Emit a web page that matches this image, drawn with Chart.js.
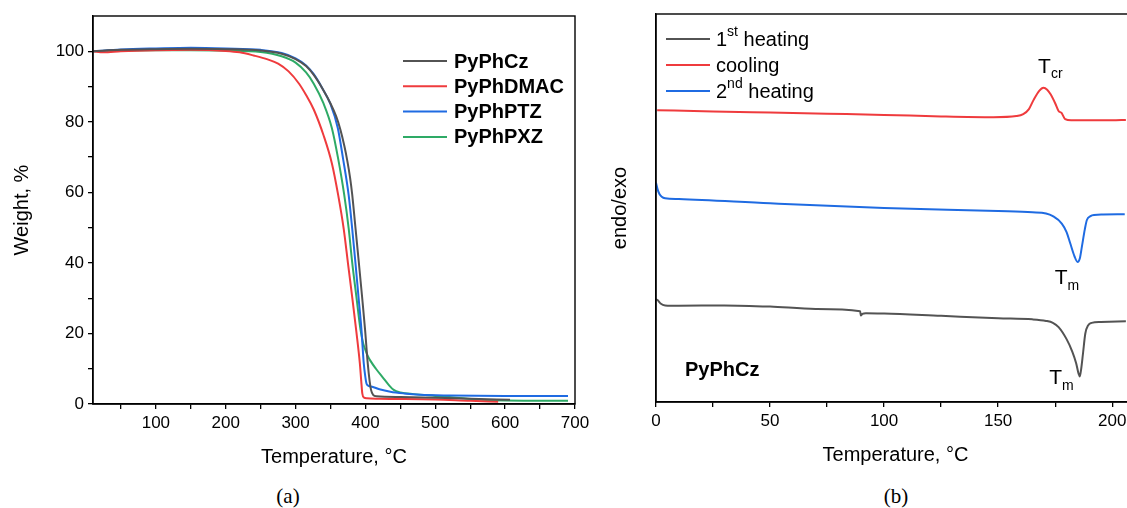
<!DOCTYPE html>
<html>
<head>
<meta charset="utf-8">
<script src="https://cdn.jsdelivr.net/npm/chart.js@4.4.1/dist/chart.umd.min.js"></script>
<style>
  html, body { margin: 0; padding: 0; background: #fff; overflow: hidden; width: 1127px; height: 508px; }
  #tga { position: absolute; left: 0; top: 0; }
  #dsc { position: absolute; left: 590px; top: 0; }
  .cap { position: absolute; top: 484px; font-family: "Liberation Serif", serif; font-size: 21px; color: #000; width: 60px; text-align: center; }
</style>
</head>
<body>
<canvas id="tga" width="600" height="470"></canvas>
<canvas id="dsc" width="560" height="470"></canvas>
<div class="cap" style="left:258px">(a)</div>
<div class="cap" style="left:866px">(b)</div>
<script>
// ---- TGA data (temperature, weight %)
const czT = [10, 50, 100, 150, 200, 250, 280, 300, 315, 326, 338, 350, 358, 364, 370, 374, 378, 381, 385.7, 390.5, 395.2, 399.5, 403.3, 406, 408, 411, 416, 450, 500, 550, 607];
const czW = [100, 100.4, 100.6, 100.7, 100.6, 100.2, 99.3, 97.8, 95.8, 93.3, 89.6, 85.2, 81.6, 77.9, 73.0, 69.0, 64.2, 59.5, 50.0, 40.2, 30.4, 21, 11.5, 6.5, 4, 2.6, 2.2, 2.0, 1.8, 1.5, 1.2];

const dmacT = [10, 25, 50, 100, 150, 200, 220, 240, 260, 275, 290, 305, 315, 326, 340, 352, 361, 369, 375, 381, 387, 392, 394, 395.5, 398, 402, 420, 500, 550, 590];
const dmacW = [100, 99.7, 100, 100.3, 100.4, 100.1, 99.7, 98.8, 97.7, 96.5, 94.3, 90.8, 87.6, 83.5, 76.2, 68.2, 59.2, 49.5, 39.9, 30.4, 20.5, 11.5, 6.5, 3.0, 1.8, 1.6, 1.5, 1.3, 0.9, 0.65];

const ptzT = [10, 50, 100, 150, 200, 250, 280, 300, 315, 326, 338, 350, 360.5, 368, 376, 381, 385.7, 390, 394.3, 397.6, 400, 401.4, 403, 409.5, 420, 435.7, 455, 478.6, 520, 600, 690];
const ptzW = [100, 100.5, 100.8, 101, 100.8, 100.4, 99.5, 98, 96, 93.5, 89.6, 85.0, 78.2, 69.5, 59.2, 49.8, 40.0, 30.5, 21, 11.5, 7.5, 5.9, 5.3, 4.9, 4.2, 3.5, 3.0, 2.6, 2.4, 2.3, 2.3];

const pxzT = [10, 50, 100, 150, 200, 250, 280, 300, 315, 326, 340, 352, 361, 369.5, 376, 381, 387, 393, 397, 400, 403, 407, 415, 425, 433, 440.5, 450, 469, 500, 530, 560, 600, 690];
const pxzW = [100, 100.2, 100.3, 100.3, 100.2, 99.8, 98.6, 96.8, 94, 90.8, 85.2, 78.2, 69.5, 59.5, 49.8, 40.2, 30.5, 21, 17, 15.3, 13.8, 12.3, 10, 7.5, 5.5, 4.0, 3.3, 2.8, 2.3, 1.8, 1.3, 1.0, 0.9];

const tgaXTicks = [50, 100, 150, 200, 250, 300, 350, 400, 450, 500, 550, 600, 650, 700];
const tgaYTicks = [0, 10, 20, 30, 40, 50, 60, 70, 80, 90, 100];

// ---- DSC data (temperature, heat flow, arbitrary units)
const heat1T = [0, 0.8, 2, 4, 10, 30, 50, 70, 89.5, 89.8, 90.5, 92, 100, 125, 150, 165, 171, 174, 176.5, 180, 182.5, 184.2, 185.3, 185.8, 186.4, 187.2, 188.2, 189.5, 191, 195, 206];
const heat1Y = [26.5, 26.2, 25.4, 24.9, 24.8, 24.9, 24.6, 24.0, 23.4, 22.3, 22.7, 22.9, 22.8, 22.2, 21.6, 21.3, 20.9, 20.4, 19.3, 16.2, 13.0, 10.0, 7.2, 6.6, 8.5, 12.5, 17.6, 19.8, 20.4, 20.6, 20.8];

const coolT = [0.5, 25, 50, 75, 100, 125, 148, 158, 161, 163.5, 165.5, 168, 169.9, 171.5, 173, 175, 176.5, 177.8, 179.4, 182, 190, 200, 206];
const coolY = [75.2, 74.9, 74.6, 74.3, 74.0, 73.6, 73.4, 73.7, 74.2, 75.5, 77.8, 80.2, 81.0, 80.5, 79.3, 77.0, 75.0, 74.5, 72.9, 72.6, 72.6, 72.6, 72.7];

const heat2T = [0, 0.7, 1.5, 2.5, 4, 10, 50, 100, 150, 165, 171, 174, 177.9, 180, 181.6, 183.5, 184.8, 185.8, 186.7, 188, 188.9, 190.5, 192, 196, 205.5];
const heat2Y = [56.5, 54.8, 53.6, 52.9, 52.5, 52.3, 51.2, 50.0, 49.2, 48.9, 48.6, 47.9, 46.0, 43.8, 40.9, 37.5, 36.1, 37.0, 40.0, 44.5, 46.9, 47.9, 48.2, 48.3, 48.4];

const dscXTicks = [0, 25, 50, 75, 100, 125, 150, 175, 200];

const GRAY = '#535353', RED = '#ef3b3d', BLUE = '#1f6be2', GREEN = '#2eaa66';
const FONT = 'Arial, "Liberation Sans", sans-serif';

function pts(xs, ys) {
  return xs.map((x, i) => ({ x: x, y: ys[i] }));
}
function ds(label, xs, ys, color) {
  return { label: label, data: pts(xs, ys), borderColor: color, backgroundColor: color,
           borderWidth: 2, pointRadius: 0, cubicInterpolationMode: 'monotone', fill: false };
}

// draws the full frame around the plot area
const frame = {
  id: 'frame',
  afterDraw(chart) {
    const a = chart.chartArea, ctx = chart.ctx;
    ctx.save();
    ctx.strokeStyle = '#000';
    ctx.lineWidth = 1.4;
    ctx.strokeRect(a.left, a.top, a.right - a.left, a.bottom - a.top);
    ctx.restore();
  }
};

// text with sub/superscript pieces: [text, 'sup'|'sub'|undefined]
function richText(ctx, parts, x, y, size, weight) {
  let cx = x;
  parts.forEach(p => {
    const small = p[1] === 'sup' || p[1] === 'sub';
    const fs = small ? Math.round(size * 0.68) : size;
    ctx.font = (weight || '') + ' ' + fs + 'px ' + FONT;
    const dy = p[1] === 'sup' ? -size * 0.4 : (p[1] === 'sub' ? size * 0.28 : 0);
    ctx.fillText(p[0], cx, y + dy);
    cx += ctx.measureText(p[0]).width;
  });
}

function legendPlugin(id, items, x0, y0, rowH, lineLen, gap, size, weight) {
  return {
    id: id,
    afterDraw(chart) {
      const ctx = chart.ctx;
      ctx.save();
      ctx.textBaseline = 'middle';
      ctx.fillStyle = '#000';
      items.forEach((it, i) => {
        const y = y0 + i * rowH;
        ctx.strokeStyle = it.color;
        ctx.lineWidth = 2;
        ctx.beginPath();
        ctx.moveTo(x0, y);
        ctx.lineTo(x0 + lineLen, y);
        ctx.stroke();
        richText(ctx, it.parts, x0 + lineLen + gap, y + 1, size, weight);
      });
      ctx.restore();
    }
  };
}

const tgaLegend = legendPlugin('tgaLegend', [
  { color: GRAY, parts: [['PyPhCz']] },
  { color: RED, parts: [['PyPhDMAC']] },
  { color: BLUE, parts: [['PyPhPTZ']] },
  { color: GREEN, parts: [['PyPhPXZ']] }
], 403, 61, 25.3, 44, 7, 20, 'bold');

const dscLegend = legendPlugin('dscLegend', [
  { color: GRAY, parts: [['1'], ['st', 'sup'], [' heating']] },
  { color: RED, parts: [['cooling']] },
  { color: BLUE, parts: [['2'], ['nd', 'sup'], [' heating']] }
], 76, 39, 26, 44, 6, 20, '');

// peak labels placed at data coordinates
const dscNotes = [
  { parts: [['T'], ['cr', 'sub']], x: 167.5, y: 84.9, size: 21, weight: '' },
  { parts: [['T'], ['m', 'sub']], x: 174.8, y: 30.4, size: 21, weight: '' },
  { parts: [['T'], ['m', 'sub']], x: 172.4, y: 4.7, size: 21, weight: '' },
  { parts: [['PyPhCz']], x: 12.7, y: 6.6, size: 20, weight: 'bold' }
];
const notes = {
  id: 'notes',
  afterDraw(chart) {
    const ctx = chart.ctx, sx = chart.scales.x, sy = chart.scales.y;
    ctx.save();
    ctx.fillStyle = '#000';
    ctx.textBaseline = 'alphabetic';
    dscNotes.forEach(n => {
      richText(ctx, n.parts, sx.getPixelForValue(n.x), sy.getPixelForValue(n.y), n.size, n.weight);
    });
    ctx.restore();
  }
};

function xAxis(min, max, tickList, labelStep, boxH, titlePadB) {
  return {
    type: 'linear', min: min, max: max,
    afterBuildTicks: s => { s.ticks = tickList.map(v => ({ value: v })); },
    afterFit: s => { s.height = boxH; },
    grid: { drawOnChartArea: false, drawTicks: true, tickLength: 5, color: '#000', lineWidth: 1.3 },
    border: { display: true, color: '#000', width: 1.4 },
    ticks: { color: '#000', font: { family: FONT, size: 17 }, padding: 4, maxRotation: 0, autoSkip: false,
             callback: v => (v % labelStep === 0 ? String(v) : '') },
    title: { display: true, text: 'Temperature, °C', color: '#000', font: { family: FONT, size: 20 },
             padding: { top: 0, bottom: titlePadB } }
  };
}

Chart.defaults.font.family = FONT;

new Chart(document.getElementById('tga'), {
  type: 'line',
  data: {
    datasets: [
      ds('PyPhCz', czT, czW, GRAY),
      ds('PyPhDMAC', dmacT, dmacW, RED),
      ds('PyPhPTZ', ptzT, ptzW, BLUE),
      ds('PyPhPXZ', pxzT, pxzW, GREEN)
    ]
  },
  options: {
    responsive: false,
    animation: false,
    layout: { padding: { top: 16, right: 25, left: 0, bottom: 0 } },
    plugins: { legend: { display: false }, tooltip: { enabled: false } },
    scales: {
      x: xAxis(10, 700, tgaXTicks, 100, 66, 1),
      y: {
        type: 'linear', min: 0, max: 110,
        afterBuildTicks: s => { s.ticks = tgaYTicks.map(v => ({ value: v })); },
        afterFit: s => { s.width = 93; },
        grid: { drawOnChartArea: false, drawTicks: true, tickLength: 5, color: '#000', lineWidth: 1.3 },
        border: { display: true, color: '#000', width: 1.4 },
        ticks: { color: '#000', font: { family: FONT, size: 17 }, padding: 4,
                 callback: v => (v % 20 === 0 ? String(v) : '') },
        title: { display: true, text: 'Weight, %', color: '#000', font: { family: FONT, size: 20 },
                 padding: { top: 10, bottom: 0 } }
      }
    }
  },
  plugins: [frame, tgaLegend]
});

new Chart(document.getElementById('dsc'), {
  type: 'line',
  data: {
    datasets: [
      ds('1st heating', heat1T, heat1Y, GRAY),
      ds('cooling', coolT, coolY, RED),
      ds('2nd heating', heat2T, heat2Y, BLUE)
    ]
  },
  options: {
    responsive: false,
    animation: false,
    layout: { padding: { top: 14, right: 15, left: 0, bottom: 0 } },
    plugins: { legend: { display: false }, tooltip: { enabled: false } },
    scales: {
      x: xAxis(0, 210, dscXTicks, 50, 68, 3),
      y: {
        type: 'linear', min: 0, max: 100,
        afterFit: s => { s.width = 66; },
        grid: { display: false, drawTicks: false },
        border: { display: true, color: '#000', width: 1.4 },
        ticks: { display: false },
        title: { display: true, text: 'endo/exo', color: '#000', font: { family: FONT, size: 20 },
                 padding: { top: 18, bottom: 0 } }
      }
    }
  },
  plugins: [frame, dscLegend, notes]
});
</script>
</body>
</html>
